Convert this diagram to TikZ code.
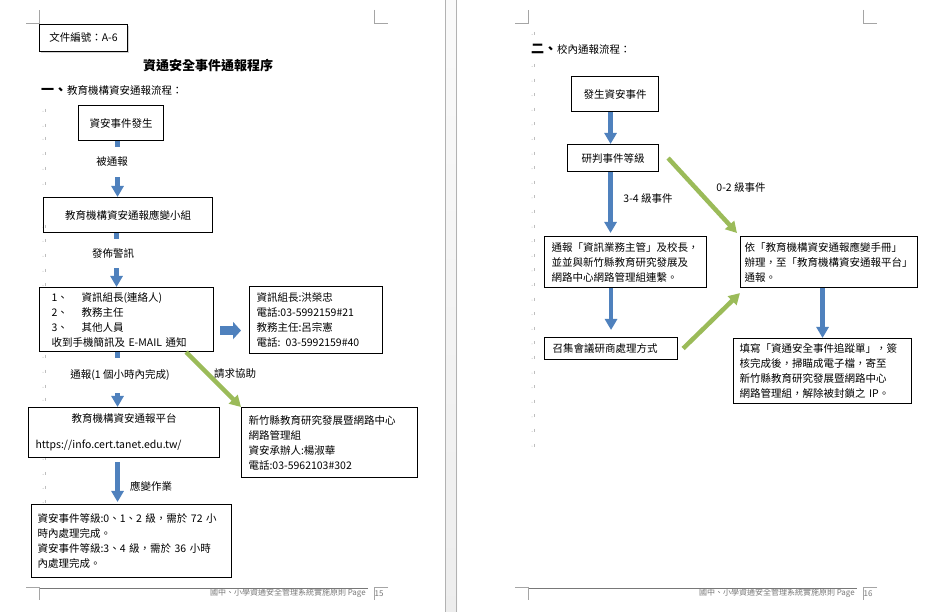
\documentclass[tikz,border=0pt]{standalone}
\usepackage{fontspec}
\setmainfont{Noto Sans CJK TC}
\usepackage{tikz}
\usetikzlibrary{arrows.meta,shadows}
\definecolor{arrowblue}{RGB}{79,129,189}
\definecolor{arrowgreen}{RGB}{155,187,89}
\definecolor{markgray}{RGB}{165,165,165}
\definecolor{pargray}{RGB}{190,190,190}
\definecolor{footgray}{RGB}{120,120,120}

\begin{document}
\begin{tikzpicture}[x=1pt,y=-1pt,
    box/.style={draw,line width=1.1pt,inner ysep=0pt,align=left,anchor=north west,font=\fontsize{10.5}{15}\selectfont},
    lbl/.style={font=\fontsize{10.5}{12}\selectfont,inner sep=1pt},
    cover/.style={lbl,fill=white},
    barrow/.style={draw=arrowblue,line width=4.5pt,-{Triangle[width=12pt,length=11pt]}},
    garrow/.style={draw=arrowgreen,line width=4.5pt,-{Triangle[width=12pt,length=11pt]}},
    blockarrow/.style={draw=arrowblue,line width=9pt,-{Triangle[width=17pt,length=8pt]}},
    corner/.style={draw=markgray,line width=0.8pt},
    foot/.style={font=\fontsize{8}{8}\selectfont,text=footgray,inner sep=0pt}]
\useasboundingbox (0,0) rectangle (930,612);
\fill[white] (0,0) rectangle (930,612);

% page gap
\shade[top color=black!2,bottom color=black!7] (445,0) rectangle (457,612);
\draw[black!30,line width=0.8pt] (445.5,0) -- (445.5,612);
\draw[black!30,line width=0.8pt] (456.5,0) -- (456.5,612);

% page corners and footers
\draw[corner] (26,23.5) -- (39.5,23.5) -- (39.5,10);
\draw[corner] (374.5,10) -- (374.5,23.5) -- (388,23.5);
\draw[corner] (26,587.5) -- (39.5,587.5) -- (39.5,600);
\draw[corner] (388,587.5) -- (374.5,587.5) -- (374.5,600);
\draw[footgray,line width=1pt] (39.5,588.5) -- (368,588.5);
\node[foot,anchor=east] (foot1) at (366,593.5) {國中、小學資通安全管理系統實施原則 Page};
\node[foot] (page1) at (379,593.5) {15};
\draw[corner] (515,23.5) -- (528.5,23.5) -- (528.5,10);
\draw[corner] (863.5,10) -- (863.5,23.5) -- (877,23.5);
\draw[corner] (515,587.5) -- (528.5,587.5) -- (528.5,600);
\draw[corner] (877,587.5) -- (863.5,587.5) -- (863.5,600);
\draw[footgray,line width=1pt] (528.5,588.5) -- (857,588.5);
\node[foot,anchor=east] (foot2) at (855,593.5) {國中、小學資通安全管理系統實施原則 Page};
\node[foot] (page2) at (868,593.5) {16};

% empty paragraph marks
\foreach \y in {110,125,138,153,168,183,226,240,255,270,284,356,371,386,399,458,473,487,501}{
  \fill[pargray] (43,\y+1.5) circle (0.5pt);
  \draw[pargray,line width=0.4pt] (45,\y-1) -- (45,\y+2);
}
\fill[pargray] (532,34.5) circle (0.5pt);
\draw[pargray,line width=0.4pt] (534,32) -- (534,35);
\foreach \k in {0,...,26}{
  \fill[pargray] (532,65+14.6*\k+1.5) circle (0.5pt);
  \draw[pargray,line width=0.4pt] (534,65+14.6*\k-1) -- (534,65+14.6*\k+2);
}

% page 15
\node[box,line width=0.9pt,fill=white,drop shadow={opacity=0.35,shadow xshift=1.5pt,shadow yshift=-1.5pt},
  align=center,inner xsep=5pt,text width=78pt,minimum height=27pt] (docno) at (39,24) {文件編號：A-6};
\node[font=\fontsize{13}{13}\selectfont\bfseries] (title) at (208,66) {資通安全事件通報程序};
\node[lbl,anchor=west] (head1) at (40,90) {{\fontsize{13}{13}\selectfont\bfseries 一、}教育機構資安通報流程：};

\node[box,align=center,inner xsep=5pt,text width=75pt,minimum height=35pt] (b1) at (78,105) {資安事件發生};
\node[box,align=center,inner xsep=5pt,text width=159pt,minimum height=35pt] (b2) at (43,197) {教育機構資安通報應變小組};
\node[box,inner xsep=12pt,text width=150pt,minimum height=64pt] (b3) at (39,287)
  {\makebox[30pt][l]{1、}資訊組長(連絡人)\\\makebox[30pt][l]{2、}教務主任\\\makebox[30pt][l]{3、}其他人員\\收到手機簡訊及 E-MAIL 通知};
\node[box,inner xsep=7pt,text width=119pt,minimum height=67pt] (b4) at (249,286)
  {資訊組長:洪榮忠\\電話:03-5992159\#21\\教務主任:呂宗憲\\電話: 03-5992159\#40};
\node[box,inner xsep=7pt,text width=177pt,minimum height=50pt] (b5) at (28,407)
  {\makebox[177pt]{教育機構資安通報平台}\\[11pt]https://info.cert.tanet.edu.tw/};
\node[box,inner xsep=7pt,text width=162pt,minimum height=70pt] (b6) at (241,407)
  {新竹縣教育研究發展暨網路中心\\網路管理組\\資安承辦人:楊淑華\\電話:03-5962103\#302};
\node[box,inner xsep=6pt,text width=188pt,minimum height=73pt] (b7) at (31,504)
  {資安事件等級:0、1、2 級，需於 72 小\\時內處理完成。\\資安事件等級:3、4 級，需於 36 小時\\內處理完成。};

\draw[barrow] ([xshift=-3.5pt]b1.south) -- ([xshift=-3.5pt]b1.south |- b2.north);
\draw[barrow] ([xshift=-11.5pt]b2.south) -- ([xshift=-11.5pt]b2.south |- b3.north);
\draw[barrow] ([xshift=-9pt]b3.south) -- ([xshift=-9pt]b3.south |- b5.north);
\draw[barrow] ([xshift=-6.5pt,yshift=-4pt]b5.south) -- ([xshift=-6.5pt,yshift=2pt]b5.south |- b7.north);
\draw[blockarrow] ([xshift=6pt,yshift=-11pt]b3.east) -- ([xshift=-8pt,yshift=-11pt]b3.east -| b4.west);
\draw[garrow] ([xshift=-28pt]b3.south east) -- (b6.north west);

\node[cover,minimum height=30pt] (l1) at (112,162) {被通報};
\node[cover,minimum height=29pt] (l2) at (113,253.5) {發佈警訊};
\node[cover,minimum height=35pt] (l3) at (120,375.5) {通報(1 個小時內完成)};
\node[lbl] (l4) at (151,486) {應變作業};
\node[lbl] (l5) at (235,374) {請求協助};

% page 16
\node[lbl,anchor=west] (head2) at (530,49) {{\fontsize{13}{13}\selectfont\bfseries 二、}校內通報流程：};

\node[box,align=center,inner xsep=5pt,text width=77pt,minimum height=35pt] (bA) at (571,76) {發生資安事件};
\node[box,align=center,inner xsep=5pt,text width=81pt,minimum height=27pt] (bB) at (567,144) {研判事件等級};
\node[box,inner xsep=7pt,text width=148pt,minimum height=51pt] (bC) at (544,236)
  {通報「資訊業務主管」及校長，\\並並與新竹縣教育研究發展及\\網路中心網路管理組連繫。};
\node[box,inner xsep=4pt,text width=169pt,minimum height=51pt] (bD) at (740,236)
  {依「教育機構資安通報應變手冊」\\辦理，至「教育機構資安通報平台」\\通報。};
\node[box,inner xsep=8pt,text width=117pt,minimum height=22pt] (bE) at (544,337) {召集會議研商處理方式};
\node[box,inner xsep=6pt,text width=166pt,minimum height=65pt] (bF) at (733,338)
  {填寫「資通安全事件追蹤單」，簽\\核完成後，掃瞄成電子檔，寄至\\新竹縣教育研究發展暨網路中心\\網路管理組，解除被封鎖之 IP。};

\draw[barrow] ([xshift=-4.5pt]bA.south) -- ([xshift=-4.5pt]bA.south |- bB.north);
\draw[barrow] ([xshift=-2.5pt]bB.south) -- ([xshift=-2.5pt,yshift=3pt]bB.south |- bC.north);
\draw[barrow] (bC.south -| bE.north) -- ([yshift=7pt]bE.north);
\draw[barrow] (bD.south -| bF.north) -- (bF.north);
\draw[garrow] ([xshift=9pt]bB.east) -- ([xshift=-3pt,yshift=3pt]bD.north west);
\draw[garrow] ([xshift=5pt]bE.east) -- ([yshift=-5pt]bD.south west);

\node[lbl] (l6) at (648,199) {3-4 級事件};
\node[lbl] (l7) at (741,188) {0-2 級事件};
\end{tikzpicture}
\end{document}
